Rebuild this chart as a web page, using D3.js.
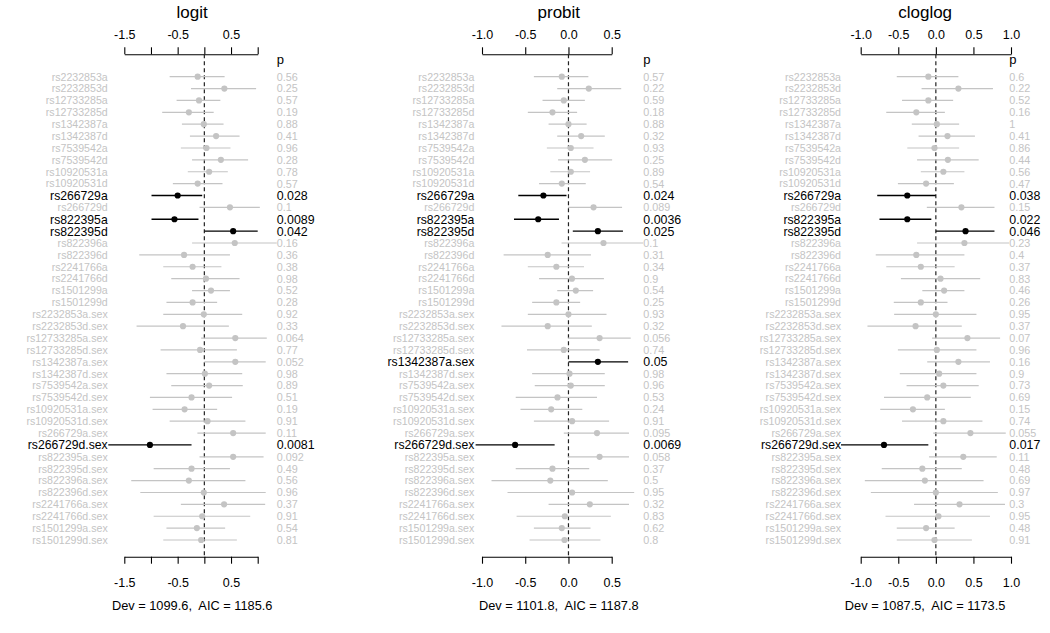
<!DOCTYPE html>
<html>
<head>
<meta charset="utf-8">
<script src="https://cdn.jsdelivr.net/npm/d3@7"></script>
<style>
  body { margin: 0; background: #fff; }
  svg { font-family: "Liberation Sans", Arial, sans-serif; }
</style>
</head>
<body>
<svg id="chart" width="1050" height="633"></svg>
<script>
// Row labels (same in all three panels)
const snps = ["rs2232853a","rs2232853d","rs12733285a","rs12733285d","rs1342387a","rs1342387d",
  "rs7539542a","rs7539542d","rs10920531a","rs10920531d","rs266729a","rs266729d",
  "rs822395a","rs822395d","rs822396a","rs822396d","rs2241766a","rs2241766d",
  "rs1501299a","rs1501299d","rs2232853a.sex","rs2232853d.sex","rs12733285a.sex","rs12733285d.sex",
  "rs1342387a.sex","rs1342387d.sex","rs7539542a.sex","rs7539542d.sex","rs10920531a.sex","rs10920531d.sex",
  "rs266729a.sex","rs266729d.sex","rs822395a.sex","rs822395d.sex","rs822396a.sex","rs822396d.sex",
  "rs2241766a.sex","rs2241766d.sex","rs1501299a.sex","rs1501299d.sex"];

// logit
const logitEst = [-0.125,0.375,-0.10,-0.29,-0.01,0.22,0.04,0.31,0.09,-0.125,
  -0.50,0.48,-0.56,0.54,0.57,-0.38,-0.22,0.03,0.125,-0.22,
  -0.01,-0.40,0.58,-0.08,0.58,0.01,0.09,-0.24,-0.37,0.06,
  0.54,-1.02,0.54,-0.24,-0.29,-0.01,0.37,-0.04,-0.14,-0.06];
const logitLo = [-0.65,-0.25,-0.52,-0.79,-0.42,-0.27,-0.44,-0.23,-0.31,-0.59,
  -0.99,-0.09,-0.99,0.005,-0.23,-1.22,-0.77,-0.62,-0.23,-0.71,
  -0.77,-1.27,-0.06,-0.82,0.0,-0.71,-0.62,-1.02,-0.97,-0.65,
  -0.13,-1.80,-0.09,-0.95,-1.37,-1.20,-0.44,-0.95,-0.71,-0.77];
const logitHi = [0.38,0.97,0.30,0.175,0.36,0.66,0.49,0.82,0.44,0.34,
  -0.04,1.04,-0.11,1.0,1.37,0.48,0.32,0.66,0.48,0.24,
  0.71,0.46,1.17,0.61,1.15,0.71,0.72,0.52,0.24,0.77,
  1.15,-0.24,1.11,0.48,0.77,1.15,1.14,0.86,0.39,0.61];
const logitP = [0.56,0.25,0.57,0.19,0.88,0.41,0.96,0.28,0.78,0.57,
  0.028,0.1,0.0089,0.042,0.16,0.36,0.38,0.98,0.52,0.28,
  0.92,0.33,0.064,0.77,0.052,0.98,0.89,0.51,0.19,0.91,
  0.11,0.0081,0.092,0.49,0.56,0.96,0.37,0.91,0.54,0.81];

// probit
const probitEst = [-0.077,0.235,-0.054,-0.185,0.0,0.147,0.027,0.19,0.027,-0.077,
  -0.29,0.29,-0.35,0.34,0.405,-0.24,-0.14,0.04,0.085,-0.14,
  0.0,-0.24,0.36,-0.054,0.34,0.012,0.027,-0.127,-0.20,0.042,
  0.33,-0.617,0.36,-0.185,-0.21,0.042,0.247,-0.042,-0.077,-0.046];
const probitLo = [-0.40,-0.13,-0.30,-0.47,-0.23,-0.13,-0.25,-0.12,-0.21,-0.34,
  -0.58,-0.005,-0.63,0.05,-0.08,-0.75,-0.47,-0.34,-0.13,-0.42,
  -0.47,-0.775,-0.005,-0.48,0.0,-0.42,-0.39,-0.61,-0.555,-0.40,
  -0.054,-1.074,-0.005,-0.61,-0.89,-0.705,-0.23,-0.60,-0.40,-0.45];
const probitHi = [0.23,0.61,0.19,0.10,0.21,0.42,0.29,0.505,0.25,0.20,
  -0.023,0.62,-0.11,0.63,0.87,0.26,0.18,0.41,0.285,0.135,
  0.44,0.27,0.72,0.36,0.69,0.42,0.42,0.33,0.16,0.47,
  0.70,-0.16,0.70,0.24,0.455,0.76,0.70,0.49,0.255,0.37];
const probitP = [0.57,0.22,0.59,0.18,0.88,0.32,0.93,0.25,0.89,0.54,
  0.024,0.089,0.0036,0.025,0.1,0.31,0.34,0.9,0.54,0.25,
  0.93,0.32,0.056,0.74,0.05,0.98,0.96,0.53,0.24,0.91,
  0.095,0.0069,0.058,0.37,0.5,0.95,0.32,0.83,0.62,0.8];

// cloglog
const cloglogEst = [-0.10,0.30,-0.10,-0.26,0.013,0.155,-0.018,0.16,0.10,-0.13,
  -0.38,0.34,-0.38,0.395,0.38,-0.26,-0.20,0.062,0.11,-0.20,
  0.0,-0.27,0.42,0.013,0.30,0.044,0.10,-0.115,-0.305,0.10,
  0.46,-0.69,0.365,-0.18,-0.146,0.0,0.315,0.035,-0.13,-0.018];
const cloglogLo = [-0.52,-0.19,-0.45,-0.66,-0.32,-0.23,-0.38,-0.25,-0.20,-0.505,
  -0.78,-0.12,-0.75,0.0,-0.25,-0.80,-0.66,-0.465,-0.18,-0.56,
  -0.555,-0.91,-0.05,-0.505,-0.115,-0.48,-0.39,-0.69,-0.74,-0.45,
  -0.035,-1.28,-0.09,-0.72,-0.945,-0.865,-0.29,-0.67,-0.52,-0.52];
const cloglogHi = [0.30,0.76,0.23,0.12,0.31,0.52,0.31,0.57,0.38,0.24,
  0.0,0.78,-0.06,0.78,0.985,0.38,0.25,0.59,0.38,0.155,
  0.54,0.345,0.855,0.54,0.72,0.54,0.57,0.465,0.12,0.62,
  0.93,-0.10,0.81,0.345,0.635,0.825,0.92,0.72,0.25,0.48];
const cloglogP = [0.6,0.22,0.52,0.16,1,0.41,0.86,0.44,0.56,0.47,
  0.038,0.15,0.022,0.046,0.23,0.4,0.37,0.83,0.46,0.26,
  0.95,0.37,0.07,0.96,0.16,0.9,0.73,0.69,0.15,0.74,
  0.055,0.017,0.11,0.48,0.69,0.97,0.3,0.95,0.48,0.91];

// axis ticks and the ones that get a label
const logitTicks = [-1.5,-1,-0.5,0,0.5,1], logitTickLabels = [-1.5,-0.5,0.5];
const probitTicks = [-1,-0.5,0,0.5], probitTickLabels = [-1,-0.5,0,0.5];
const cloglogTicks = [-1,-0.5,0,0.5,1], cloglogTickLabels = [-1,-0.5,0,0.5,1];

const models = ["logit","probit","cloglog"];
const fitText = ["Dev = 1099.6,  AIC = 1185.6","Dev = 1101.8,  AIC = 1187.8","Dev = 1087.5,  AIC = 1173.5"];

const panels = [
  {name: models[0], est: logitEst, lo: logitLo, hi: logitHi, p: logitP, ticks: logitTicks, tickLabels: logitTickLabels,
   domain: [-1.5, 1], labelX: 107.7, pX: 276.7, x0: 124.3, x1: 257.7, fit: fitText[0]},
  {name: models[1], est: probitEst, lo: probitLo, hi: probitHi, p: probitP, ticks: probitTicks, tickLabels: probitTickLabels,
   domain: [-1, 0.5], labelX: 474.3, pX: 643.3, x0: 482, x1: 611.7, fit: fitText[1]},
  {name: models[2], est: cloglogEst, lo: cloglogLo, hi: cloglogHi, p: cloglogP, ticks: cloglogTicks, tickLabels: cloglogTickLabels,
   domain: [-1, 1], labelX: 841, pX: 1009.3, x0: 860.7, x1: 1011, fit: fitText[2]}
];

const grey = "#c4c4c4";
const topAxisY = 54.3, bottomAxisY = 556.7;

const svg = d3.select("#chart");

const y = d3.scalePoint()
  .domain(snps)
  .range([76.7, 540]);

panels.forEach(function(pn, k) {
  const x = d3.scaleLinear().domain(pn.domain).range([pn.x0, pn.x1]);
  const mid = (pn.labelX + pn.pX) / 2;

  const rows = snps.map((s, i) => ({
    snp: s, est: pn.est[i], lo: pn.lo[i], hi: pn.hi[i], p: pn.p[i], sig: pn.p[i] <= 0.05
  }));

  const g = svg.append("g");

  // clip the interval lines to the plot region
  svg.append("clipPath").attr("id", "clip" + k)
    .append("rect")
    .attr("x", pn.labelX).attr("y", 0)
    .attr("width", pn.pX - pn.labelX).attr("height", 633);

  // title
  g.append("text")
    .attr("x", mid).attr("y", 18)
    .attr("text-anchor", "middle")
    .style("font-size", "17px")
    .text(pn.name);

  const fmt = d => pn.tickLabels.includes(d) ? d.toFixed(1) : "";

  // top axis
  const top = g.append("g")
    .attr("transform", `translate(0,${topAxisY})`)
    .call(d3.axisTop(x).tickValues(pn.ticks).tickFormat(fmt).tickSize(7).tickSizeOuter(0).tickPadding(8));
  // bottom axis
  const bot = g.append("g")
    .attr("transform", `translate(0,${bottomAxisY})`)
    .call(d3.axisBottom(x).tickValues(pn.ticks).tickFormat(fmt).tickSize(7).tickSizeOuter(0).tickPadding(14.5));
  [top, bot].forEach(a => {
    a.selectAll("text").style("font-size", "12.5px").attr("fill", "#000").style("font-family", "inherit");
    a.selectAll("path, line").attr("stroke", "#000").attr("stroke-width", 1.1);
  });

  // zero line
  g.append("line")
    .attr("x1", x(0)).attr("x2", x(0))
    .attr("y1", topAxisY).attr("y2", bottomAxisY)
    .attr("stroke", "#222")
    .attr("stroke-width", 1.2)
    .attr("stroke-dasharray", "4,3");

  // p header
  g.append("text")
    .attr("x", pn.pX).attr("y", 64)
    .style("font-size", "13px")
    .text("p");

  // interval lines
  const marks = g.append("g").attr("clip-path", `url(#clip${k})`);
  marks.selectAll(".ci")
    .data(rows)
    .enter().append("line")
    .attr("class", "ci")
    .attr("x1", d => x(d.lo)).attr("x2", d => x(d.hi))
    .attr("y1", d => y(d.snp)).attr("y2", d => y(d.snp))
    .attr("stroke", d => d.sig ? "#000" : grey)
    .attr("stroke-width", d => d.sig ? 1.3 : 1.2);

  marks.selectAll(".dot")
    .data(rows)
    .enter().append("circle")
    .attr("class", "dot")
    .attr("cx", d => x(d.est))
    .attr("cy", d => y(d.snp))
    .attr("r", 3.1)
    .attr("fill", d => d.sig ? "#000" : grey);

  // row labels
  g.selectAll(".lab")
    .data(rows)
    .enter().append("text")
    .attr("class", "lab")
    .attr("x", pn.labelX)
    .attr("y", d => y(d.snp))
    .attr("dy", "0.36em")
    .attr("text-anchor", "end")
    .style("font-size", d => d.sig ? "12.2px" : "10.6px")
    .attr("fill", d => d.sig ? "#000" : grey)
    .text(d => d.snp);

  // p values
  g.selectAll(".pval")
    .data(rows)
    .enter().append("text")
    .attr("class", "pval")
    .attr("x", pn.pX)
    .attr("y", d => y(d.snp))
    .attr("dy", "0.36em")
    .style("font-size", d => d.sig ? "12.4px" : "10.8px")
    .attr("fill", d => d.sig ? "#000" : grey)
    .text(d => String(d.p));

  // fit statistics
  g.append("text")
    .attr("x", mid).attr("y", 609.5)
    .attr("text-anchor", "middle")
    .style("font-size", "12.8px")
    .style("white-space", "pre")
    .text(pn.fit);
});
</script>
</body>
</html>
